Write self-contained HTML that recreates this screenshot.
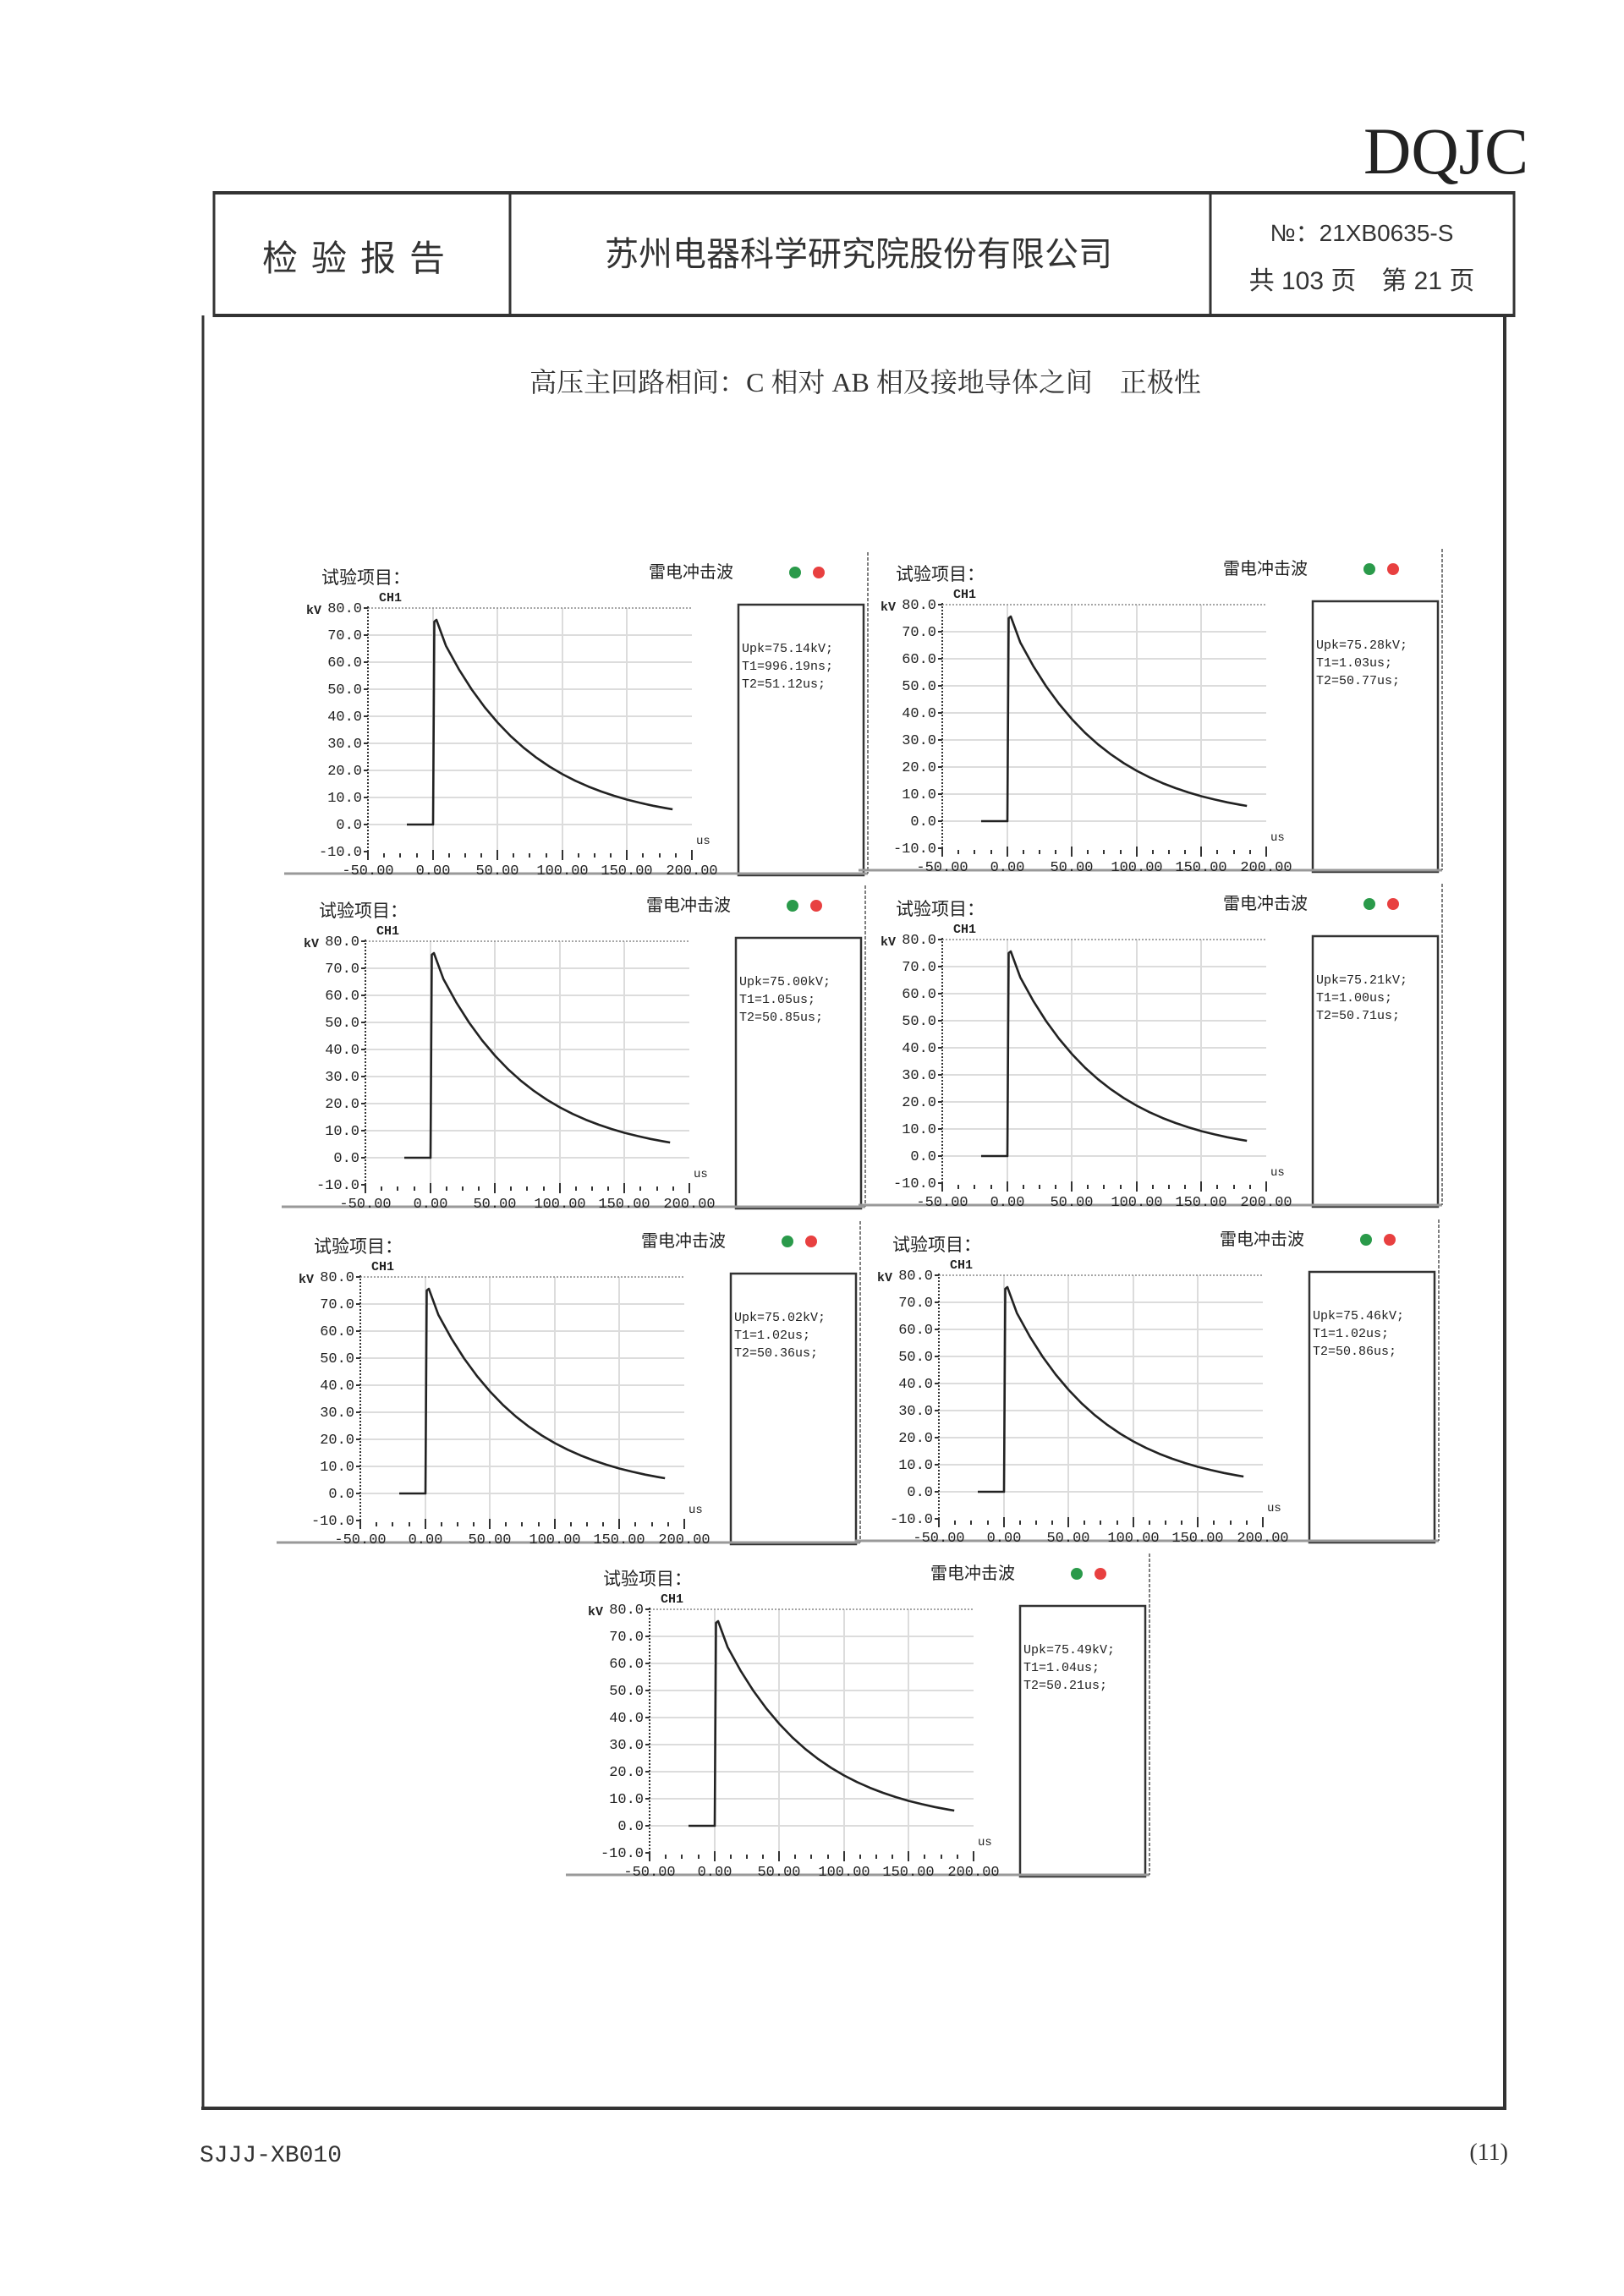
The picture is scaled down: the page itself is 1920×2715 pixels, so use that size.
<!DOCTYPE html>
<html><head><meta charset="utf-8"><style>
html,body{margin:0;padding:0;background:#fff}
svg{display:block}
.cjk{font-family:"Liberation Sans","Noto Sans CJK SC",sans-serif}
.mono{font-family:"Liberation Mono","DejaVu Sans Mono",monospace}
</style></head><body>
<svg width="1920" height="2715" viewBox="0 0 1920 2715" xmlns="http://www.w3.org/2000/svg">
<defs>
<g id="chart">
  <g stroke="#dcdcdc" stroke-width="2">
    <line x1="99" y1="98" x2="482" y2="98"/><line x1="99" y1="130" x2="482" y2="130"/>
    <line x1="99" y1="162" x2="482" y2="162"/><line x1="99" y1="194" x2="482" y2="194"/>
    <line x1="99" y1="226" x2="482" y2="226"/><line x1="99" y1="258" x2="482" y2="258"/>
    <line x1="99" y1="290" x2="482" y2="290"/><line x1="99" y1="322" x2="482" y2="322"/>
    <line x1="176" y1="66" x2="176" y2="354"/><line x1="252" y1="66" x2="252" y2="354"/>
    <line x1="329" y1="66" x2="329" y2="354"/><line x1="405" y1="66" x2="405" y2="354"/>
  </g>
  <line x1="99" y1="66" x2="482" y2="66" stroke="#888" stroke-width="1.5" stroke-dasharray="2,2"/>
  <line x1="99" y1="64" x2="99" y2="356" stroke="#333" stroke-width="2" stroke-dasharray="2,2"/>
  <g stroke="#333" stroke-width="2">
    <line x1="94" y1="66" x2="99" y2="66"/><line x1="94" y1="98" x2="99" y2="98"/><line x1="94" y1="130" x2="99" y2="130"/>
    <line x1="94" y1="162" x2="99" y2="162"/><line x1="94" y1="194" x2="99" y2="194"/><line x1="94" y1="226" x2="99" y2="226"/>
    <line x1="94" y1="258" x2="99" y2="258"/><line x1="94" y1="290" x2="99" y2="290"/><line x1="94" y1="322" x2="99" y2="322"/>
    <line x1="94" y1="354" x2="99" y2="354"/>
  </g>
  <g stroke="#333" stroke-width="2">
    <line x1="99" y1="352" x2="99" y2="364"/><line x1="118" y1="356" x2="118" y2="361"/><line x1="137" y1="356" x2="137" y2="361"/><line x1="157" y1="356" x2="157" y2="361"/>
    <line x1="176" y1="352" x2="176" y2="364"/><line x1="195" y1="356" x2="195" y2="361"/><line x1="214" y1="356" x2="214" y2="361"/><line x1="233" y1="356" x2="233" y2="361"/>
    <line x1="252" y1="352" x2="252" y2="364"/><line x1="271" y1="356" x2="271" y2="361"/><line x1="290" y1="356" x2="290" y2="361"/><line x1="310" y1="356" x2="310" y2="361"/>
    <line x1="329" y1="352" x2="329" y2="364"/><line x1="348" y1="356" x2="348" y2="361"/><line x1="367" y1="356" x2="367" y2="361"/><line x1="386" y1="356" x2="386" y2="361"/>
    <line x1="405" y1="352" x2="405" y2="364"/><line x1="424" y1="356" x2="424" y2="361"/><line x1="444" y1="356" x2="444" y2="361"/><line x1="463" y1="356" x2="463" y2="361"/>
    <line x1="482" y1="352" x2="482" y2="364"/>
  </g>
  <path d="M145,322 L176,322 L177.5,82 L180,80 L191.2,110.6 L206.5,138.4 L221.8,162.5 L237.1,183.4 L252.5,201.6 L267.8,217.5 L283.1,231.2 L298.4,243.1 L313.7,253.5 L329,262.5 L344.3,270.3 L359.6,277.1 L375,283 L390.3,288.1 L405.6,292.6 L420.9,296.4 L436.2,299.8 L451.5,302.7 L459.2,304" fill="none" stroke="#222" stroke-width="2.6" stroke-linejoin="round"/>
  <rect x="537" y="62" width="148" height="320" fill="none" stroke="#333" stroke-width="2.5"/>
  <line x1="0" y1="380" x2="690" y2="380" stroke="#999" stroke-width="3"/>
  <line x1="690" y1="0" x2="690" y2="380" stroke="#555" stroke-width="1.5" stroke-dasharray="4,2"/>
  <circle cx="604" cy="24" r="7" fill="#2a9a4a"/><circle cx="632" cy="24" r="7" fill="#e84040"/>
</g>
</defs>

<text x="1612" y="205" font-family="Liberation Serif,serif" font-size="78" fill="#222" textLength="195" lengthAdjust="spacingAndGlyphs">DQJC</text>

<g stroke="#333" fill="none">
  <line x1="252" y1="228" x2="1791" y2="228" stroke-width="4"/>
  <line x1="252" y1="373" x2="1791" y2="373" stroke-width="4"/>
  <line x1="253" y1="226" x2="253" y2="375" stroke-width="3"/>
  <line x1="603" y1="228" x2="603" y2="373" stroke-width="3"/>
  <line x1="1431" y1="228" x2="1431" y2="373" stroke-width="3"/>
  <line x1="1790" y1="226" x2="1790" y2="375" stroke-width="3"/>
  <line x1="240" y1="373" x2="240" y2="2494" stroke-width="3"/>
  <line x1="1779" y1="373" x2="1779" y2="2494" stroke-width="4"/>
  <line x1="238" y1="2493" x2="1781" y2="2493" stroke-width="4"/>
</g>
<g class="cjk" fill="#333" text-anchor="middle">
  <text x="426" y="320" font-size="42" letter-spacing="16">检验报告</text>
  <text x="1015" y="314" font-size="40">苏州电器科学研究院股份有限公司</text>
  <text x="1610" y="285" font-size="28">№：21XB0635-S</text>
  <text x="1610" y="342" font-size="30">共 103 页　第 21 页</text>
</g>
<text x="1023" y="463" text-anchor="middle" font-family="Liberation Serif,'Noto Serif CJK SC',serif" font-size="32" fill="#333">高压主回路相间：C 相对 AB 相及接地导体之间　正极性</text>

<text x="236" y="2556" class="mono" font-size="28" fill="#333">SJJJ-XB010</text>
<text x="1783" y="2554" text-anchor="end" font-family="Liberation Serif,serif" font-size="28" fill="#333">(11)</text>

<g font-size="15" fill="#222">
<g transform="translate(336,653)">
  <use href="#chart"/>
  <text x="44" y="37" class="cjk" font-size="21">试验项目：</text>
  <text x="431" y="30" class="cjk" font-size="20">雷电冲击波</text>
  <text x="26" y="73" class="mono" font-weight="bold" font-size="15">kV</text>
  <text x="112" y="58" class="mono" font-weight="bold" font-size="15">CH1</text>
  <g class="mono" text-anchor="end" font-size="17"><text x="92" y="71">80.0</text><text x="92" y="103">70.0</text><text x="92" y="135">60.0</text><text x="92" y="167">50.0</text><text x="92" y="199">40.0</text><text x="92" y="231">30.0</text><text x="92" y="263">20.0</text><text x="92" y="295">10.0</text><text x="92" y="327">0.0</text><text x="92" y="359">-10.0</text></g>
  <g class="mono" text-anchor="middle" font-size="17"><text x="99" y="381">-50.00</text><text x="176" y="381">0.00</text><text x="252" y="381">50.00</text><text x="329" y="381">100.00</text><text x="405" y="381">150.00</text><text x="482" y="381">200.00</text></g>
  <text x="487" y="345" class="mono" font-size="14">us</text>
  <g class="mono" font-size="15"><text x="541" y="118">Upk=75.14kV;</text><text x="541" y="139">T1=996.19ns;</text><text x="541" y="160">T2=51.12us;</text></g>
</g>
<g transform="translate(1015,649)">
  <use href="#chart"/>
  <text x="44" y="37" class="cjk" font-size="21">试验项目：</text>
  <text x="431" y="30" class="cjk" font-size="20">雷电冲击波</text>
  <text x="26" y="73" class="mono" font-weight="bold" font-size="15">kV</text>
  <text x="112" y="58" class="mono" font-weight="bold" font-size="15">CH1</text>
  <g class="mono" text-anchor="end" font-size="17"><text x="92" y="71">80.0</text><text x="92" y="103">70.0</text><text x="92" y="135">60.0</text><text x="92" y="167">50.0</text><text x="92" y="199">40.0</text><text x="92" y="231">30.0</text><text x="92" y="263">20.0</text><text x="92" y="295">10.0</text><text x="92" y="327">0.0</text><text x="92" y="359">-10.0</text></g>
  <g class="mono" text-anchor="middle" font-size="17"><text x="99" y="381">-50.00</text><text x="176" y="381">0.00</text><text x="252" y="381">50.00</text><text x="329" y="381">100.00</text><text x="405" y="381">150.00</text><text x="482" y="381">200.00</text></g>
  <text x="487" y="345" class="mono" font-size="14">us</text>
  <g class="mono" font-size="15"><text x="541" y="118">Upk=75.28kV;</text><text x="541" y="139">T1=1.03us;</text><text x="541" y="160">T2=50.77us;</text></g>
</g>
<g transform="translate(333,1047)">
  <use href="#chart"/>
  <text x="44" y="37" class="cjk" font-size="21">试验项目：</text>
  <text x="431" y="30" class="cjk" font-size="20">雷电冲击波</text>
  <text x="26" y="73" class="mono" font-weight="bold" font-size="15">kV</text>
  <text x="112" y="58" class="mono" font-weight="bold" font-size="15">CH1</text>
  <g class="mono" text-anchor="end" font-size="17"><text x="92" y="71">80.0</text><text x="92" y="103">70.0</text><text x="92" y="135">60.0</text><text x="92" y="167">50.0</text><text x="92" y="199">40.0</text><text x="92" y="231">30.0</text><text x="92" y="263">20.0</text><text x="92" y="295">10.0</text><text x="92" y="327">0.0</text><text x="92" y="359">-10.0</text></g>
  <g class="mono" text-anchor="middle" font-size="17"><text x="99" y="381">-50.00</text><text x="176" y="381">0.00</text><text x="252" y="381">50.00</text><text x="329" y="381">100.00</text><text x="405" y="381">150.00</text><text x="482" y="381">200.00</text></g>
  <text x="487" y="345" class="mono" font-size="14">us</text>
  <g class="mono" font-size="15"><text x="541" y="118">Upk=75.00kV;</text><text x="541" y="139">T1=1.05us;</text><text x="541" y="160">T2=50.85us;</text></g>
</g>
<g transform="translate(1015,1045)">
  <use href="#chart"/>
  <text x="44" y="37" class="cjk" font-size="21">试验项目：</text>
  <text x="431" y="30" class="cjk" font-size="20">雷电冲击波</text>
  <text x="26" y="73" class="mono" font-weight="bold" font-size="15">kV</text>
  <text x="112" y="58" class="mono" font-weight="bold" font-size="15">CH1</text>
  <g class="mono" text-anchor="end" font-size="17"><text x="92" y="71">80.0</text><text x="92" y="103">70.0</text><text x="92" y="135">60.0</text><text x="92" y="167">50.0</text><text x="92" y="199">40.0</text><text x="92" y="231">30.0</text><text x="92" y="263">20.0</text><text x="92" y="295">10.0</text><text x="92" y="327">0.0</text><text x="92" y="359">-10.0</text></g>
  <g class="mono" text-anchor="middle" font-size="17"><text x="99" y="381">-50.00</text><text x="176" y="381">0.00</text><text x="252" y="381">50.00</text><text x="329" y="381">100.00</text><text x="405" y="381">150.00</text><text x="482" y="381">200.00</text></g>
  <text x="487" y="345" class="mono" font-size="14">us</text>
  <g class="mono" font-size="15"><text x="541" y="118">Upk=75.21kV;</text><text x="541" y="139">T1=1.00us;</text><text x="541" y="160">T2=50.71us;</text></g>
</g>
<g transform="translate(327,1444)">
  <use href="#chart"/>
  <text x="44" y="37" class="cjk" font-size="21">试验项目：</text>
  <text x="431" y="30" class="cjk" font-size="20">雷电冲击波</text>
  <text x="26" y="73" class="mono" font-weight="bold" font-size="15">kV</text>
  <text x="112" y="58" class="mono" font-weight="bold" font-size="15">CH1</text>
  <g class="mono" text-anchor="end" font-size="17"><text x="92" y="71">80.0</text><text x="92" y="103">70.0</text><text x="92" y="135">60.0</text><text x="92" y="167">50.0</text><text x="92" y="199">40.0</text><text x="92" y="231">30.0</text><text x="92" y="263">20.0</text><text x="92" y="295">10.0</text><text x="92" y="327">0.0</text><text x="92" y="359">-10.0</text></g>
  <g class="mono" text-anchor="middle" font-size="17"><text x="99" y="381">-50.00</text><text x="176" y="381">0.00</text><text x="252" y="381">50.00</text><text x="329" y="381">100.00</text><text x="405" y="381">150.00</text><text x="482" y="381">200.00</text></g>
  <text x="487" y="345" class="mono" font-size="14">us</text>
  <g class="mono" font-size="15"><text x="541" y="118">Upk=75.02kV;</text><text x="541" y="139">T1=1.02us;</text><text x="541" y="160">T2=50.36us;</text></g>
</g>
<g transform="translate(1011,1442)">
  <use href="#chart"/>
  <text x="44" y="37" class="cjk" font-size="21">试验项目：</text>
  <text x="431" y="30" class="cjk" font-size="20">雷电冲击波</text>
  <text x="26" y="73" class="mono" font-weight="bold" font-size="15">kV</text>
  <text x="112" y="58" class="mono" font-weight="bold" font-size="15">CH1</text>
  <g class="mono" text-anchor="end" font-size="17"><text x="92" y="71">80.0</text><text x="92" y="103">70.0</text><text x="92" y="135">60.0</text><text x="92" y="167">50.0</text><text x="92" y="199">40.0</text><text x="92" y="231">30.0</text><text x="92" y="263">20.0</text><text x="92" y="295">10.0</text><text x="92" y="327">0.0</text><text x="92" y="359">-10.0</text></g>
  <g class="mono" text-anchor="middle" font-size="17"><text x="99" y="381">-50.00</text><text x="176" y="381">0.00</text><text x="252" y="381">50.00</text><text x="329" y="381">100.00</text><text x="405" y="381">150.00</text><text x="482" y="381">200.00</text></g>
  <text x="487" y="345" class="mono" font-size="14">us</text>
  <g class="mono" font-size="15"><text x="541" y="118">Upk=75.46kV;</text><text x="541" y="139">T1=1.02us;</text><text x="541" y="160">T2=50.86us;</text></g>
</g>
<g transform="translate(669,1837)">
  <use href="#chart"/>
  <text x="44" y="37" class="cjk" font-size="21">试验项目：</text>
  <text x="431" y="30" class="cjk" font-size="20">雷电冲击波</text>
  <text x="26" y="73" class="mono" font-weight="bold" font-size="15">kV</text>
  <text x="112" y="58" class="mono" font-weight="bold" font-size="15">CH1</text>
  <g class="mono" text-anchor="end" font-size="17"><text x="92" y="71">80.0</text><text x="92" y="103">70.0</text><text x="92" y="135">60.0</text><text x="92" y="167">50.0</text><text x="92" y="199">40.0</text><text x="92" y="231">30.0</text><text x="92" y="263">20.0</text><text x="92" y="295">10.0</text><text x="92" y="327">0.0</text><text x="92" y="359">-10.0</text></g>
  <g class="mono" text-anchor="middle" font-size="17"><text x="99" y="381">-50.00</text><text x="176" y="381">0.00</text><text x="252" y="381">50.00</text><text x="329" y="381">100.00</text><text x="405" y="381">150.00</text><text x="482" y="381">200.00</text></g>
  <text x="487" y="345" class="mono" font-size="14">us</text>
  <g class="mono" font-size="15"><text x="541" y="118">Upk=75.49kV;</text><text x="541" y="139">T1=1.04us;</text><text x="541" y="160">T2=50.21us;</text></g>
</g>
</g>
</svg>
</body></html>
